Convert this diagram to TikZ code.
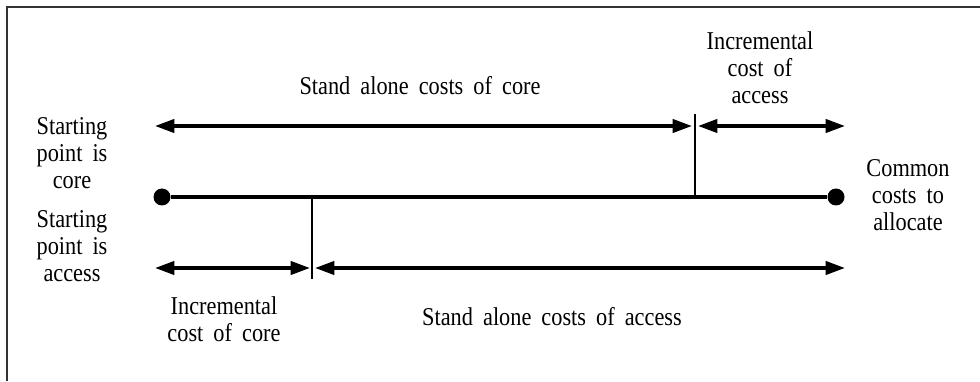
\documentclass[tikz,border=0pt]{standalone}
\usepackage{fontspec}
\setmainfont{Liberation Serif}[WordSpace=1.8, FakeStretch=0.87]
\usetikzlibrary{arrows.meta}
\tikzset{
  lbl/.style={align=center, inner sep=0pt, font=\fontsize{14.6}{15.3}\selectfont},
  dim/.style={line width=2pt, {Triangle[length=11pt,width=7.5pt]}-{Triangle[length=11pt,width=7.5pt]}},
  dot/.style={circle, fill, inner sep=0pt, minimum size=0.34cm},
}
\begin{document}
\begin{tikzpicture}
\useasboundingbox (0,0) rectangle (19.6,7.62);
\draw[line width=0.8pt, black!80] (0.14,0) -- (0.14,7.48) -- (19.6,7.48);
% end points of the cost line
\node[dot] (p0) at (3.24,3.68) {};
\node[dot] (p1) at (16.72,3.68) {};
\draw[line width=2pt] (p0) -- (p1);
% split points
\coordinate (ta) at (13.90,5.34);
\coordinate (tb) at (13.90,3.68);
\coordinate (ba) at (6.24,3.68);
\coordinate (bb) at (6.24,2.04);
\draw[line width=1.5pt] (ta) -- (tb);
\draw[line width=1.5pt] (ba) -- (bb);
% arrows
\coordinate (u0) at (3.10,5.10);
\coordinate (u1) at (13.84,5.10);
\coordinate (u2) at (13.96,5.10);
\coordinate (u3) at (16.90,5.10);
\coordinate (d0) at (3.10,2.26);
\coordinate (d1) at (6.20,2.26);
\coordinate (d2) at (6.30,2.26);
\coordinate (d3) at (16.90,2.26);
\draw[dim] (u0) -- (u1);
\draw[dim] (u2) -- (u3);
\draw[dim] (d0) -- (d1);
\draw[dim] (d2) -- (d3);
% labels
\node[lbl] (sc)  at (8.40,5.90)  {Stand alone costs of core};
\node[lbl] (ia)  at (15.20,6.26) {Incremental\\cost of\\access};
\node[lbl] (spc) at (1.44,4.56)  {Starting\\point is\\core};
\node[lbl] (spa) at (1.44,2.70)  {Starting\\point is\\access};
\node[lbl] (cc)  at (18.16,3.72) {Common\\costs to\\allocate};
\node[lbl] (ic)  at (4.48,1.24)  {Incremental\\cost of core};
\node[lbl] (sa)  at (11.04,1.28) {Stand alone costs of access};
\end{tikzpicture}
\end{document}
